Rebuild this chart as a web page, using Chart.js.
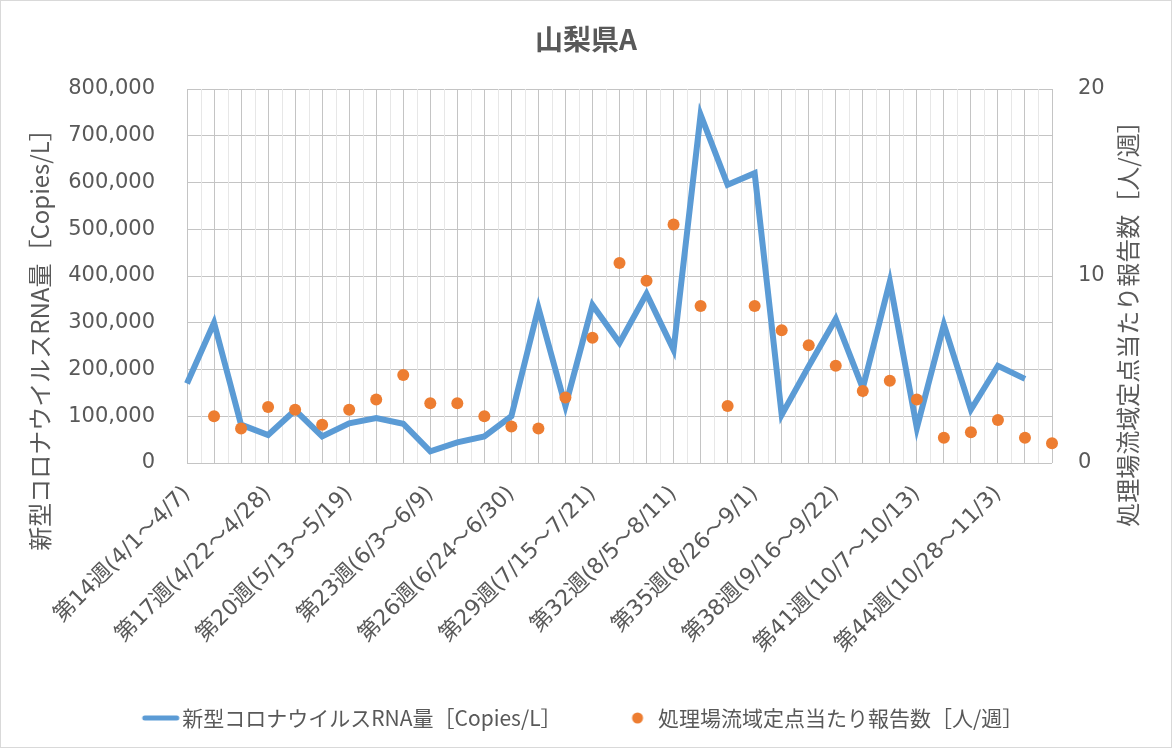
<!DOCTYPE html>
<html lang="ja">
<head>
<meta charset="utf-8">
<title>山梨県A</title>
<script src="https://cdn.jsdelivr.net/npm/chart.js@4.4.1/dist/chart.umd.min.js"></script>
<style>
  html, body { margin: 0; padding: 0; background: #fff; }
  #wrap { width: 1172px; height: 748px; }
</style>
</head>
<body>
<div id="wrap"><canvas id="mainChart" width="1172" height="748"></canvas></div>
<script>
// Data
const weekLabels = [
  '第14週(4/1～4/7)', '第15週(4/8～4/14)', '第16週(4/15～4/21)', '第17週(4/22～4/28)',
  '第18週(4/29～5/5)', '第19週(5/6～5/12)', '第20週(5/13～5/19)', '第21週(5/20～5/26)',
  '第22週(5/27～6/2)', '第23週(6/3～6/9)', '第24週(6/10～6/16)', '第25週(6/17～6/23)',
  '第26週(6/24～6/30)', '第27週(7/1～7/7)', '第28週(7/8～7/14)', '第29週(7/15～7/21)',
  '第30週(7/22～7/28)', '第31週(7/29～8/4)', '第32週(8/5～8/11)', '第33週(8/12～8/18)',
  '第34週(8/19～8/25)', '第35週(8/26～9/1)', '第36週(9/2～9/8)', '第37週(9/9～9/15)',
  '第38週(9/16～9/22)', '第39週(9/23～9/29)', '第40週(9/30～10/6)', '第41週(10/7～10/13)',
  '第42週(10/14～10/20)', '第43週(10/21～10/27)', '第44週(10/28～11/3)', '第45週(11/4～11/10)',
  '第46週(11/11～11/17)'
];

// 新型コロナウイルスRNA量 [Copies/L]
const rnaCopies = [
  170000, 300000, 82000, 60000, 113000, 57000, 85000, 96000,
  84000, 25000, 44000, 57000, 100000, 332000, 122000, 338000,
  257000, 362000, 242000, 745000, 595000, 620000, 103000, 207000,
  308000, 160000, 388000, 75000, 296000, 114000, 208000, 180000,
  null
];

// 処理場流域定点当たり報告数 [人/週]
const reports = [
  null, 2.5, 1.85, 3.0, 2.85, 2.05, 2.85, 3.4,
  4.7, 3.2, 3.2, 2.5, 1.95, 1.85, 3.5, 6.7,
  10.7, 9.75, 12.75, 8.4, 3.05, 8.4, 7.1, 6.3,
  5.2, 3.85, 4.4, 3.4, 1.35, 1.65, 2.3, 1.35,
  1.05
];

const seriesNames = ['新型コロナウイルスRNA量［Copies/L］', '処理場流域定点当たり報告数［人/週］'];
const chartTitle = '山梨県A';
const leftAxisTitle = '新型コロナウイルスRNA量［Copies/L］';
const rightAxisTitle = '処理場流域定点当たり報告数［人/週］';
const leftAxisMax = 800000, leftAxisStep = 100000;
const rightAxisMax = 20, rightAxisStep = 10;
const labelEvery = 3;

const BLUE = '#5b9bd5';
const ORANGE = '#ed7d31';
const TEXT = '#595959';
const CJK = "'Noto Sans CJK JP', 'Noto Sans', sans-serif";
const NUM = "'DejaVu Sans', 'Noto Sans CJK JP', sans-serif";

Chart.defaults.font.family = CJK;
Chart.defaults.color = TEXT;

// Legend swatches (wide boxes so the items sit where Excel put them)
function lineSwatch() {
  const c = document.createElement('canvas');
  c.width = 100; c.height = 8;
  const g = c.getContext('2d');
  g.strokeStyle = BLUE; g.lineWidth = 5; g.lineCap = 'round';
  g.beginPath(); g.moveTo(63, 4); g.lineTo(95, 4); g.stroke();
  return c;
}
function dotSwatch() {
  const c = document.createElement('canvas');
  c.width = 80; c.height = 12;
  const g = c.getContext('2d');
  g.fillStyle = ORANGE;
  g.beginPath(); g.arc(70, 6, 5.5, 0, Math.PI * 2); g.fill();
  return c;
}
const swatches = [lineSwatch(), dotSwatch()];

// Minor vertical grid lines between categories + outer frame
const minorGrid = {
  id: 'minorGrid',
  beforeDatasetsDraw(chart) {
    const { ctx, chartArea, scales } = chart;
    const x = scales.x;
    ctx.save();
    ctx.strokeStyle = '#e7e7e7';
    ctx.lineWidth = 1;
    for (let i = 0; i < weekLabels.length - 1; i++) {
      const px = Math.round(x.getPixelForValue(i + 0.5)) + 0.5;
      ctx.beginPath();
      ctx.moveTo(px, chartArea.top);
      ctx.lineTo(px, chartArea.bottom);
      ctx.stroke();
    }
    ctx.restore();
  },
  afterDraw(chart) {
    const { ctx, width, height } = chart;
    ctx.save();
    ctx.strokeStyle = '#d9d9d9';
    ctx.lineWidth = 1;
    ctx.strokeRect(0.5, 0.5, width - 1, height - 1);
    ctx.restore();
  }
};

// Chart title and axis titles (axis titles read bottom to top on both sides)
const titles = {
  id: 'titles',
  afterDraw(chart) {
    const { ctx, width } = chart;
    ctx.save();
    ctx.fillStyle = TEXT;
    ctx.font = `bold 28px ${CJK}`;
    ctx.textAlign = 'center';
    ctx.textBaseline = 'middle';
    ctx.fillText(chartTitle, width / 2, 39);
    ctx.restore();

    [[leftAxisTitle, 40, 334], [rightAxisTitle, 1128, 318]].forEach(([text, x, y]) => {
      ctx.save();
      ctx.fillStyle = TEXT;
      ctx.font = `24px ${CJK}`;
      ctx.textAlign = 'center';
      ctx.textBaseline = 'middle';
      ctx.translate(x, y);
      ctx.rotate(-Math.PI / 2);
      ctx.fillText(text, 0, 0);
      ctx.restore();
    });
  }
};

new Chart(document.getElementById('mainChart').getContext('2d'), {
  type: 'line',
  data: {
    labels: weekLabels,
    datasets: [
      {
        label: seriesNames[0],
        data: rnaCopies,
        yAxisID: 'y',
        borderColor: BLUE,
        backgroundColor: BLUE,
        borderWidth: 6,
        borderJoinStyle: 'miter',
        borderCapStyle: 'butt',
        pointRadius: 0,
        pointHoverRadius: 0,
        tension: 0,
        spanGaps: false,
        order: 2
      },
      {
        label: seriesNames[1],
        data: reports,
        yAxisID: 'y1',
        showLine: false,
        borderColor: ORANGE,
        backgroundColor: ORANGE,
        pointStyle: 'circle',
        pointRadius: 6,
        pointBorderWidth: 0,
        pointHoverRadius: 6,
        order: 1
      }
    ]
  },
  options: {
    responsive: false,
    animation: false,
    events: [],
    layout: { padding: { top: 89, bottom: 9.5, left: 0, right: 57 } },
    plugins: {
      title: { display: false },
      legend: {
        position: 'bottom',
        labels: {
          usePointStyle: true,
          pointStyleWidth: 80,
          padding: 6,
          color: TEXT,
          font: { size: 21, family: CJK },
          sort: (a, b) => a.datasetIndex - b.datasetIndex,
          generateLabels(chart) {
            return Chart.defaults.plugins.legend.labels.generateLabels(chart).map(item => {
              item.pointStyle = swatches[item.datasetIndex];
              return item;
            });
          }
        }
      },
      tooltip: { enabled: false }
    },
    scales: {
      x: {
        type: 'category',
        offset: false,
        grid: { color: '#c4c4c4', drawTicks: false },
        border: { display: false },
        ticks: {
          autoSkip: false,
          maxRotation: 45,
          minRotation: 45,
          padding: 18,
          color: TEXT,
          font: { size: 22, family: NUM },
          callback(value, index) {
            return index % labelEvery === 0 ? weekLabels[index] : '';
          }
        },
        afterFit(scale) { scale.height = 238.5; }
      },
      y: {
        position: 'left',
        min: 0,
        max: leftAxisMax,
        grid: { color: '#c4c4c4', drawTicks: false },
        border: { display: false },
        ticks: {
          stepSize: leftAxisStep,
          padding: 32,
          color: TEXT,
          font: { size: 21, family: NUM },
          callback(value) { return value.toLocaleString('en-US'); }
        },
        afterFit(scale) { scale.width = 187; }
      },
      y1: {
        position: 'right',
        min: 0,
        max: rightAxisMax,
        grid: { drawOnChartArea: false, drawTicks: false },
        border: { display: false },
        ticks: {
          stepSize: rightAxisStep,
          padding: 26,
          color: TEXT,
          font: { size: 21, family: NUM }
        },
        afterFit(scale) { scale.width = 63; }
      }
    }
  },
  plugins: [minorGrid, titles]
});
</script>
</body>
</html>
